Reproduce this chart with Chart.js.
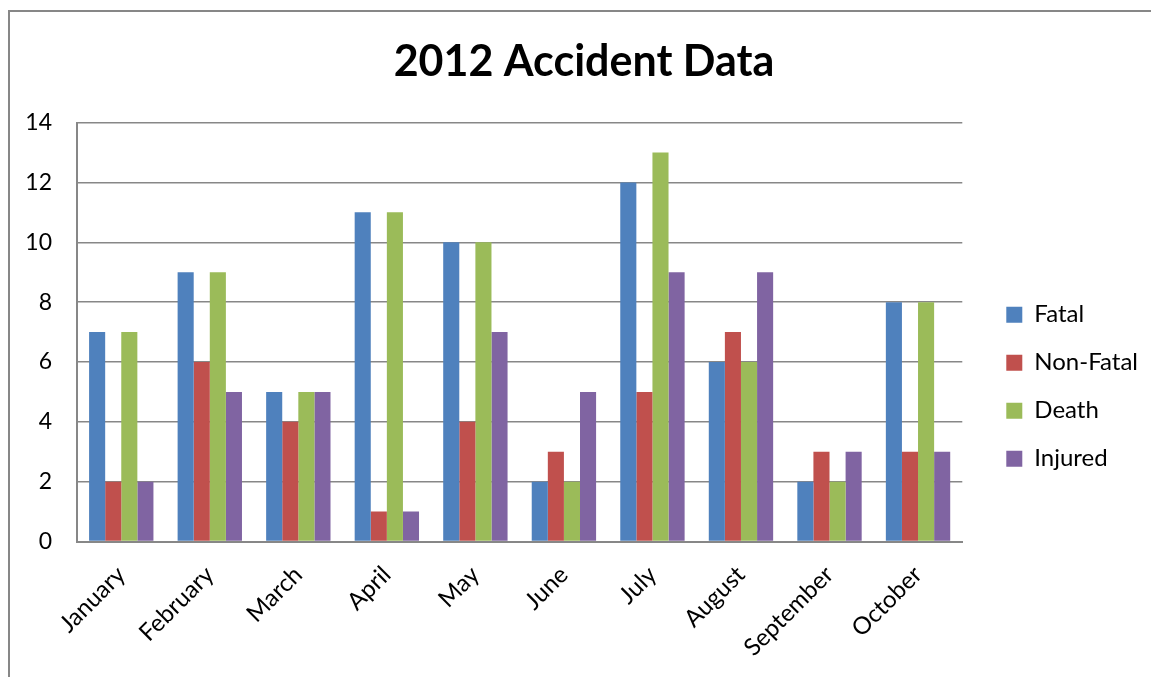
<!DOCTYPE html>
<html>
<head>
<meta charset="utf-8">
<script src="https://cdn.jsdelivr.net/npm/chart.js@4/dist/chart.umd.min.js"></script>
<style>
  html, body { margin: 0; padding: 0; background: #fff; overflow: hidden; }
  #frame {
    position: absolute; left: 8px; top: 10px; width: 1200px; height: 720px;
    border-left: 2px solid #878787; border-top: 2px solid #878787;
  }
  #wrap { position: absolute; left: 0; top: 0; width: 1151px; height: 677px; }
</style>
</head>
<body>
<div id="frame"></div>
<div id="wrap"><canvas id="accidents" width="1151" height="677"></canvas></div>
<script>
// Monthly accident counts for 2012
const months = ['January', 'February', 'March', 'April', 'May', 'June', 'July', 'August', 'September', 'October'];
const fatal    = [7, 9, 5, 11, 10, 2, 12, 6, 2, 8];
const nonFatal = [2, 6, 4, 1, 4, 3, 5, 7, 3, 3];
const death    = [7, 9, 5, 11, 10, 2, 13, 6, 2, 8];
const injured  = [2, 5, 5, 1, 7, 5, 9, 9, 3, 3];
const seriesNames = ['Fatal', 'Non-Fatal', 'Death', 'Injured'];
const seriesColors = ['#4f81bd', '#c0504d', '#9bbb59', '#8064a2'];

Chart.defaults.font.family = 'Lato, "Open Sans", sans-serif';
Chart.defaults.color = '#000';

const ctx = document.getElementById('accidents').getContext('2d');

new Chart(ctx, {
    type: 'bar',
    data: {
        labels: months,
        datasets: [fatal, nonFatal, death, injured].map((values, i) => ({
            label: seriesNames[i],
            data: values,
            backgroundColor: seriesColors[i],
            borderWidth: 0,
            categoryPercentage: 0.727,
            barPercentage: 1.0,
            yAxisID: 'y'
        }))
    },
    options: {
        responsive: false,
        animation: false,
        layout: {
            padding: { left: 20, right: 3, top: 36, bottom: 4 }
        },
        plugins: {
            title: {
                display: true,
                text: '2012 Accident Data',
                font: { size: 43, weight: 'bold' },
                color: '#000',
                padding: { top: 0, bottom: 35 }
            },
            legend: {
                position: 'right',
                // empty title pushes the legend items a bit below the plot centre
                title: { display: true, text: '', padding: { top: 50, bottom: 0 } },
                labels: {
                    boxWidth: 16,
                    boxHeight: 16,
                    padding: 24,
                    font: { size: 24 },
                    color: '#000'
                }
            },
            tooltip: { enabled: false }
        },
        scales: {
            x: {
                grid: { display: false },
                border: { display: true, color: '#878787', width: 2 },
                ticks: {
                    minRotation: 45,
                    maxRotation: 45,
                    font: { size: 24 },
                    padding: 11
                }
            },
            y: {
                min: 0,
                max: 14,
                grid: { color: '#878787', lineWidth: 1.5, drawTicks: false },
                border: { display: true, color: '#878787', width: 2 },
                ticks: {
                    stepSize: 2,
                    font: { size: 23 },
                    padding: 25
                },
                afterFit: scale => { scale.width = 57; }
            },
            // spacer between the plot and the legend
            gap: {
                type: 'linear',
                position: 'right',
                display: true,
                grid: { display: false },
                border: { display: false },
                ticks: { display: false },
                afterFit: scale => { scale.width = 20; }
            }
        }
    }
});
</script>
</body>
</html>
